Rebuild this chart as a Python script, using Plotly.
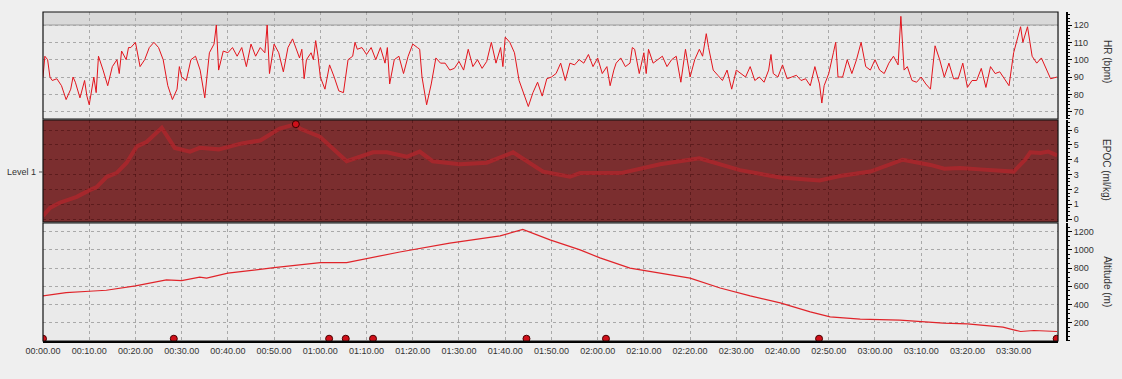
import plotly.graph_objects as go

# ---- data (time in minutes) ----
hr_time = [0, 0.4, 1, 1.5, 2, 3, 4, 5, 6, 6.5, 7, 8, 9, 9.5, 10, 11, 11.5, 12, 13, 14, 15, 16, 16.5, 17, 18, 18.5,
           19, 20, 21, 22, 23, 24, 25, 26, 27, 28, 29, 29.5, 30, 31, 32, 33, 34, 35, 36, 37, 37.5, 38, 39, 40, 41,
           42, 43, 44, 45, 46, 47, 48, 48.5, 49, 50, 51, 52, 53, 54, 55, 55.5, 56, 56.5, 57, 58, 58.5, 59, 59.5,
           60, 61, 62, 63, 64, 65, 66, 67, 67.5, 68, 69, 70, 71, 72, 73, 74, 74.5, 75, 76, 77, 78, 79, 80, 81,
           81.5, 82, 83, 84, 85, 86, 87, 88, 89, 90, 91, 92, 93, 94, 95, 96, 97, 98, 99, 99.5, 100, 101, 102,
           103, 104, 105, 106, 107, 108, 109, 110, 111, 112, 113, 114, 115, 116, 117, 118, 119, 120, 121, 122,
           122.7, 123.5, 124, 125, 126, 127, 127.5, 128, 129, 130, 130.5, 131, 132, 133, 134, 135, 136, 137,
           138, 139, 140, 141, 142, 142.7, 143.5, 144, 145, 146, 147, 148, 149, 150, 151, 152, 153, 154, 155,
           156, 157, 157.5, 158, 159, 160, 161, 162, 163, 164, 165, 166, 167, 168, 168.5, 169, 170, 171, 171.5,
           172, 173, 174, 175, 176, 177, 178, 179, 180, 181, 182, 183, 184, 185, 185.6, 186.3, 187, 188, 189,
           190, 191, 192, 193, 194, 195, 196, 197, 198, 199, 200, 201, 202, 203, 204, 205, 206, 207, 208, 209,
           210, 211, 211.5, 212, 213, 214, 215, 216, 217, 218, 219.4]
hr_bpm = [90, 102, 100, 90, 88, 89, 85, 77, 83, 90, 87, 78, 88, 79, 74, 90, 81, 102, 94, 85, 96, 100, 92, 105, 100, 107,
          107, 110, 96, 100, 107, 110, 107, 100, 85, 77, 83, 96, 90, 88, 100, 102, 94, 78, 104, 109, 120, 94, 105, 104, 107,
          102, 107, 96, 109, 102, 107, 104, 120, 92, 109, 104, 93, 107, 112, 104, 101, 106, 89, 100, 104, 100, 111, 102,
          90, 83, 97, 90, 82, 81, 100, 102, 110, 106, 107, 103, 107, 100, 107, 98, 107, 86, 100, 102, 92, 102, 109, 107,
          106, 90, 74, 86, 101, 98, 98, 94, 95, 99, 94, 106, 96, 100, 95, 99, 110, 98, 107, 96, 113, 110, 104,
          88, 80, 73, 81, 87, 79, 89, 90, 92, 98, 88, 98, 97, 100, 98, 103, 96, 101, 92, 96,
          85, 94, 98, 101, 96, 98, 107, 106, 92, 104, 92, 106, 98, 100, 102, 96, 100, 102,
          87, 106, 90, 100, 106, 102, 115, 107, 94, 91, 88, 94, 83, 94, 92, 90, 96, 88, 90,
          87, 94, 103, 92, 90, 97, 89, 90, 91, 88, 89, 85, 96, 86, 75, 85, 92, 104, 110,
          90, 90, 100, 92, 100, 110, 96, 94, 100, 94, 92, 98, 102, 97, 125, 94, 96, 88, 87,
          90, 86, 83, 108, 100, 90, 98, 89, 89, 98, 84, 88, 88, 95, 84, 96, 92, 93, 89, 85,
          104, 115, 119, 110, 119, 102, 98, 101, 95, 89, 90]

epoc_time = [0, 1.5, 3.6, 7.3, 10.1, 11.6, 13.8, 15.9, 18.1, 20.3, 22.4, 24.6, 25.7, 28.5, 31.8, 33.9, 38, 43, 47,
             51.2, 54.7, 55.6, 59.9, 65.7, 71.4, 74.4, 78.7, 81.5, 84.3, 90.2, 96, 101.7, 108.2, 114, 116.2, 125,
             133.5, 142, 150.8, 159.5, 168, 172.4, 179, 186, 187.7, 192, 195, 198.4, 202.7, 207, 210, 212.5, 213.6,
             215.8, 217.5, 219.4]
epoc_val = [0.2, 0.75, 1.1, 1.5, 1.95, 2.15, 2.85, 3.1, 3.8, 4.9, 5.2, 5.8, 6.15, 4.8, 4.55, 4.8, 4.7, 5.1, 5.3,
            6.1, 6.4, 6.1, 5.55, 3.9, 4.5, 4.5, 4.2, 4.55, 3.9, 3.7, 3.8, 4.5, 3.2, 2.85, 3.1, 3.1,
            3.7, 4.1, 3.3, 2.8, 2.6, 2.9, 3.2, 4.0, 3.9, 3.65, 3.4, 3.45, 3.35, 3.3, 3.2, 4.0, 4.5,
            4.45, 4.55, 4.3]
epoc_peak_time = [54.7]
epoc_peak_val = [6.4]

alt_time = [0, 5, 10, 13.7, 20, 24.5, 26.7, 30, 33.9, 35.4, 40, 50, 60, 65.7, 72.9, 77.2, 88, 98.9, 103.8, 109.7,
            116.2, 120.5, 127, 133.5, 140, 146.5, 153, 159.5, 166, 170.3, 176.8, 185.4, 190, 194.8, 200, 204,
            207.7, 210, 211.5, 214.4, 219.4]
alt_m = [495, 531, 546, 557, 605, 648, 670, 663, 700, 689, 744, 805, 860, 860, 934, 977, 1075, 1153, 1225, 1110,
         1000, 912, 800, 746, 690, 582, 495, 418, 320, 265, 240, 228, 213, 196, 188, 166,
         152, 122, 104, 115, 104]

lap_time = [0, 28.3, 61.9, 65.5, 71.4, 104.6, 121.8, 167.9, 219.3]
lap_level = [25] * len(lap_time)

x_tickvals = list(range(0, 220, 10))
x_ticktext = ["%02d:%02d.00" % (v // 60, v % 60) for v in x_tickvals]

hr_ticks = [70, 80, 90, 100, 110, 120]
epoc_ticks = [0, 1, 2, 3, 4, 5, 6]
alt_ticks = [200, 400, 600, 800, 1000, 1200]

# ---- layout geometry ----
XDOM = [0, 0.9407]
YPOS = 0.949
FONT = "Liberation Sans"
TXT = "#333333"
GRID = "#a9a9a9"

fig = go.Figure()

fig.add_trace(go.Scatter(x=hr_time, y=hr_bpm, mode="lines", line=dict(color="#e3141c", width=1),
                         xaxis="x", yaxis="y", showlegend=False, hoverinfo="skip"))
fig.add_trace(go.Scatter(x=epoc_time, y=epoc_val, mode="lines",
                         line=dict(color="rgba(200,35,42,0.55)", width=4),
                         xaxis="x2", yaxis="y2", showlegend=False, hoverinfo="skip"))
fig.add_trace(go.Scatter(x=epoc_peak_time, y=epoc_peak_val, mode="markers",
                         marker=dict(color="#d0101a", size=7, line=dict(color="#3a0000", width=1)),
                         xaxis="x2", yaxis="y2", showlegend=False, hoverinfo="skip", cliponaxis=False))
fig.add_trace(go.Scatter(x=alt_time, y=alt_m, mode="lines", line=dict(color="#e0242a", width=1.2),
                         xaxis="x3", yaxis="y3", showlegend=False, hoverinfo="skip"))
fig.add_trace(go.Scatter(x=lap_time, y=lap_level, mode="markers",
                         marker=dict(color="#d0101a", size=7, line=dict(color="#4a0000", width=1)),
                         xaxis="x3", yaxis="y3", showlegend=False, hoverinfo="skip"))

xrange = [0, 219.6]
common_x = dict(domain=XDOM, range=xrange, tickvals=x_tickvals, showgrid=True, griddash="3px,3px",
                gridcolor=GRID, gridwidth=1, zeroline=False, ticks="")
common_y = dict(anchor="free", position=YPOS, side="right", showline=True, linecolor="black", linewidth=2,
                ticks="outside", ticklen=4, tickwidth=1, tickcolor="black", showgrid=True,
                griddash="3px,3px", gridcolor=GRID, zeroline=False,
                tickfont=dict(family=FONT, size=9, color=TXT))

fig.update_layout(
    width=1122, height=379,
    margin=dict(l=43, r=0, t=12, b=38, autoexpand=False),
    paper_bgcolor="#efefef", plot_bgcolor="#eaeaea",
    font=dict(family=FONT, size=9, color=TXT),
    xaxis=dict(common_x, anchor="y", showticklabels=False),
    xaxis2=dict(common_x, anchor="y2", showticklabels=False, matches="x", gridcolor="rgba(70,15,15,0.55)"),
    xaxis3=dict(common_x, anchor="y3", matches="x", ticktext=x_ticktext, showticklabels=True,
                showline=True, linecolor="black", linewidth=2,
                tickfont=dict(family=FONT, size=9, color=TXT)),
    yaxis=dict(common_y, domain=[0.6748, 1.0], range=[65.8, 127.5], tickvals=hr_ticks,
               minor=dict(dtick=2, ticks="outside", ticklen=2, tickcolor="black", showgrid=False)),
    yaxis2=dict(common_y, domain=[0.3617, 0.6717], range=[-0.2, 6.68], tickvals=epoc_ticks,
                gridcolor="rgba(70,15,15,0.55)",
                minor=dict(dtick=0.25, ticks="outside", ticklen=2, tickcolor="black", showgrid=False)),
    yaxis3=dict(common_y, domain=[0, 0.3587], range=[0, 1295], tickvals=alt_ticks,
                minor=dict(dtick=50, ticks="outside", ticklen=2, tickcolor="black", showgrid=False)),
)

shapes = [
    # top grey zone in HR panel
    dict(type="rect", xref="x domain", yref="y", x0=0, x1=1, y0=120, y1=127.5,
         fillcolor="#d9d9d9", line=dict(width=0), layer="below"),
    dict(type="line", xref="x domain", yref="y", x0=0, x1=1, y0=120, y1=120,
         line=dict(color="#9a9a9a", width=1), layer="below"),
    # EPOC level band
    dict(type="rect", xref="x2 domain", yref="y2 domain", x0=0, x1=1, y0=0, y1=1,
         fillcolor="#7b2e2f", line=dict(width=0), layer="below"),
]
for xr, yr in (("x domain", "y domain"), ("x2 domain", "y2 domain"), ("x3 domain", "y3 domain")):
    shapes.append(dict(type="rect", xref=xr, yref=yr, x0=0, x1=1, y0=0, y1=1,
                       line=dict(color="#111111", width=1.2), fillcolor="rgba(0,0,0,0)", layer="above"))
# small tick next to the "Level 1" label
shapes.append(dict(type="line", xref="paper", yref="paper", x0=-0.0037, x1=0, y0=0.5137, y1=0.5137,
                   line=dict(color="#555555", width=1)))
fig.update_layout(shapes=shapes)

ann = [
    dict(text="HR (bpm)", x=0.987, y=0.848),
    dict(text="EPOC (ml/kg)", x=0.985, y=0.52),
    dict(text="Altitude (m)", x=0.987, y=0.179),
]
annotations = [dict(a, xref="paper", yref="paper", textangle=90, showarrow=False,
                    xanchor="center", yanchor="middle", font=dict(family=FONT, size=10, color=TXT))
               for a in ann]
annotations.append(dict(text="Level 1", xref="paper", yref="paper", x=-0.0048, y=0.5137, showarrow=False,
                        xanchor="right", yanchor="middle", font=dict(family=FONT, size=9, color=TXT)))
fig.update_layout(annotations=annotations)

fig.write_html("out.html", config={"displayModeBar": False},
               post_script="document.body.style.margin='0';document.body.style.overflow='hidden';")
